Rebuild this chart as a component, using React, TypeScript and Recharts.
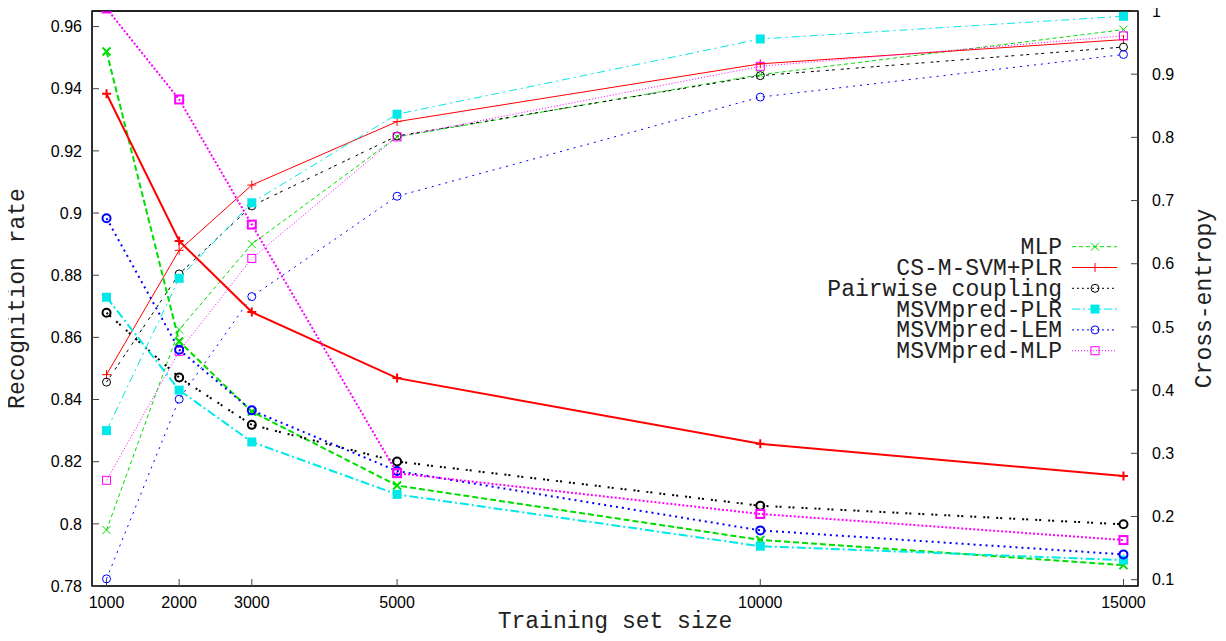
import React from 'react';
import { LineChart, Line, XAxis, YAxis, Legend, ReferenceArea } from 'recharts';

// ---------- data ----------
const trainingSizes = [1000, 2000, 3000, 5000, 10000, 15000];
const rateTicks = [0.78, 0.8, 0.82, 0.84, 0.86, 0.88, 0.9, 0.92, 0.94, 0.96];
const entropyTicks = [0.1, 0.2, 0.3, 0.4, 0.5, 0.6, 0.7, 0.8, 0.9, 1];
const xDomain = [800, 15200];
const rateDomain = [0.78, 0.965];
const entropyDomain = [0.09, 1.0];

const seriesNames = ['MLP', 'CS-M-SVM+PLR', 'Pairwise coupling', 'MSVMpred-PLR', 'MSVMpred-LEM', 'MSVMpred-MLP'];

// Recognition rate (left axis)
const mlpRate = [0.798, 0.8625, 0.89, 0.9245, 0.9445, 0.959];
const csRate = [0.848, 0.888, 0.909, 0.9294, 0.948, 0.9558];
const pairRate = [0.8456, 0.8804, 0.9023, 0.9248, 0.9442, 0.9534];
const plrRate = [0.83, 0.879, 0.9033, 0.9318, 0.956, 0.9633];
const lemRate = [0.7823, 0.8401, 0.8731, 0.9054, 0.9373, 0.951];
const mlpPredRate = [0.814, 0.8555, 0.8854, 0.9245, 0.9472, 0.957];

// Cross-entropy (right axis)
const mlpCE = [0.936, 0.477, 0.366, 0.249, 0.163, 0.123];
const csCE = [0.869, 0.636, 0.5235, 0.419, 0.315, 0.264];
const pairCE = [0.5225, 0.42, 0.345, 0.287, 0.217, 0.1876];
const plrCE = [0.547, 0.4, 0.318, 0.235, 0.153, 0.131];
const lemCE = [0.672, 0.464, 0.368, 0.272, 0.178, 0.14];
const mlpPredCE = [1.004, 0.86, 0.662, 0.2686, 0.204, 0.1627];

const rateSeries = [mlpRate, csRate, pairRate, plrRate, lemRate, mlpPredRate];
const ceSeries = [mlpCE, csCE, pairCE, plrCE, lemCE, mlpPredCE];

const data = trainingSizes.map((n, i) => {
  const row: any = { n };
  rateSeries.forEach((s, k) => { row['rate' + k] = s[i]; });
  ceSeries.forEach((s, k) => { row['ce' + k] = s[i]; });
  return row;
});

// ---------- styles ----------
type Kind = 'x' | 'plus' | 'circle' | 'fsquare' | 'square';
const styles: { color: string; kind: Kind; thinDash?: string; thickDash?: string; legendDash?: string }[] = [
  { color: '#00dd00', kind: 'x', thinDash: '4 3', thickDash: '6 3', legendDash: '4 3' },
  { color: '#ff0000', kind: 'plus' },
  { color: '#000000', kind: 'circle', thinDash: '3 3 3 6', thickDash: '2 2 2 7', legendDash: '2 3' },
  { color: '#00e8e8', kind: 'fsquare', thinDash: '8 4 2 4', thickDash: '9 3 2 3', legendDash: '8 3 2 3' },
  { color: '#0000ff', kind: 'circle', thinDash: '2 5', thickDash: '2 4', legendDash: '2 3' },
  { color: '#ff00ff', kind: 'square', thinDash: '1 2', thickDash: '2 2', legendDash: '1 2' },
];

function marker(kind: Kind, cx: number, cy: number, color: string, sw: number) {
  switch (kind) {
    case 'x': {
      const s = 4;
      return <path d={`M${cx - s},${cy - s}L${cx + s},${cy + s}M${cx - s},${cy + s}L${cx + s},${cy - s}`} stroke={color} strokeWidth={sw} fill="none" />;
    }
    case 'plus': {
      const s = 4.5;
      return <path d={`M${cx - s},${cy}L${cx + s},${cy}M${cx},${cy - s}L${cx},${cy + s}`} stroke={color} strokeWidth={sw} fill="none" />;
    }
    case 'circle':
      return <circle cx={cx} cy={cy} r={4} stroke={color} strokeWidth={sw} fill="none" />;
    case 'fsquare':
      return <rect x={cx - 4.5} y={cy - 4.5} width={9} height={9} fill={color} stroke="none" />;
    case 'square':
      return <rect x={cx - 4} y={cy - 4} width={8} height={8} stroke={color} strokeWidth={sw} fill="none" />;
  }
  return null;
}

function dotRenderer(kind: Kind, color: string, sw: number, id: string) {
  return (props: any) => {
    const { cx, cy, index } = props;
    if (cx == null || cy == null || isNaN(cx) || isNaN(cy)) return <g key={`${id}-${index}`} />;
    return <g key={`${id}-${index}`}>{marker(kind, cx, cy, color, sw)}</g>;
  };
}

const monoFont = '"Liberation Mono", "DejaVu Sans Mono", monospace';
const tickFont = { fontSize: 16, fill: '#000', fontFamily: '"Liberation Sans", Arial, sans-serif' };
const axisLineStyle = { stroke: '#222', strokeWidth: 1.5 };
const tickLineStyle = { stroke: '#444', strokeWidth: 1 };

const fmt = (v: number) => String(Number(v.toFixed(2)));

function LegendBox() {
  return (
    <svg width={440} height={140} style={{ display: 'block' }}>
      {seriesNames.map((name, i) => {
        const st = styles[i];
        const y = 13.7 + 20.8 * i;
        return (
          <g key={name}>
            <text x={354} y={y + 7.5} textAnchor="end" fontFamily={monoFont} fontSize={23} fill="#222">{name}</text>
            <line x1={364} x2={409} y1={y} y2={y} stroke={st.color} strokeWidth={1} strokeDasharray={st.legendDash} />
            {marker(st.kind, 387, y, st.color, 1)}
          </g>
        );
      })}
    </svg>
  );
}

export default function App() {
  return (
    <div style={{ margin: -8, width: 1226, height: 641 }}>
      <LineChart width={1226} height={641} data={data} margin={{ top: 10, right: 0, bottom: 0, left: 0 }}>
        <XAxis
          xAxisId="b"
          dataKey="n"
          type="number"
          orientation="bottom"
          domain={xDomain}
          ticks={trainingSizes}
          interval={0}
          allowDataOverflow
          height={55}
          tickSize={-7}
          tickMargin={18}
          axisLine={axisLineStyle}
          tickLine={tickLineStyle}
          tick={tickFont}
          label={{
            content: (p: any) => {
              const vb = p.viewBox;
              return (
                <text x={vb.x + vb.width / 2} y={vb.y + 42} textAnchor="middle" fontFamily={monoFont} fontSize={23} fill="#222">
                  Training set size
                </text>
              );
            },
          }}
        />
        <XAxis
          xAxisId="t"
          dataKey="n"
          type="number"
          orientation="top"
          domain={xDomain}
          ticks={trainingSizes}
          interval={0}
          allowDataOverflow
          height={1}
          tickSize={-7}
          axisLine={{ stroke: '#222', strokeWidth: 2 }}
          tickLine={tickLineStyle}
          tick={false}
        />
        <YAxis
          yAxisId="l"
          orientation="left"
          type="number"
          domain={rateDomain}
          ticks={rateTicks}
          interval={0}
          allowDataOverflow
          width={92}
          tickSize={-7}
          tickMargin={17}
          tickFormatter={fmt}
          axisLine={axisLineStyle}
          tickLine={tickLineStyle}
          tick={tickFont}
          label={{
            content: (p: any) => {
              const vb = p.viewBox;
              const x = vb.x + 24;
              const y = vb.y + vb.height / 2;
              return (
                <text x={x} y={y} transform={`rotate(-90, ${x}, ${y})`} textAnchor="middle" fontFamily={monoFont} fontSize={23} fill="#222">
                  Recognition rate
                </text>
              );
            },
          }}
        />
        <YAxis
          yAxisId="r"
          orientation="right"
          type="number"
          domain={entropyDomain}
          ticks={entropyTicks}
          interval={0}
          allowDataOverflow
          width={88}
          tickSize={-7}
          tickMargin={21}
          tickFormatter={fmt}
          axisLine={axisLineStyle}
          tickLine={tickLineStyle}
          tick={tickFont}
          label={{
            content: (p: any) => {
              const vb = p.viewBox;
              const x = vb.x + 73;
              const y = vb.y + vb.height / 2;
              return (
                <text x={x} y={y} transform={`rotate(-90, ${x}, ${y})`} textAnchor="middle" fontFamily={monoFont} fontSize={23} fill="#222">
                  Cross-entropy
                </text>
              );
            },
          }}
        />
        <ReferenceArea
          xAxisId="b"
          yAxisId="l"
          x1={xDomain[0]}
          x2={xDomain[1]}
          y1={rateDomain[0]}
          y2={rateDomain[1]}
          fill="none"
          fillOpacity={0}
          stroke="#222"
          strokeWidth={1.5}
          ifOverflow="visible"
        />
        {styles.map((st, k) => (
          <Line
            key={'rate' + k}
            xAxisId="t"
            yAxisId="l"
            dataKey={'rate' + k}
            name={seriesNames[k]}
            type="linear"
            stroke={st.color}
            strokeWidth={1}
            strokeDasharray={st.thinDash}
            dot={dotRenderer(st.kind, st.color, 1, 'rate' + k)}
            activeDot={false}
            isAnimationActive={false}
            legendType="none"
          />
        ))}
        {styles.map((st, k) => (
          <Line
            key={'ce' + k}
            xAxisId="b"
            yAxisId="r"
            dataKey={'ce' + k}
            name={seriesNames[k] + ' (CE)'}
            type="linear"
            stroke={st.color}
            strokeWidth={2}
            strokeDasharray={st.thickDash}
            dot={dotRenderer(st.kind, st.color, 2, 'ce' + k)}
            activeDot={false}
            isAnimationActive={false}
            legendType="none"
          />
        ))}
        <Legend
          layout="vertical"
          align="center"
          verticalAlign="middle"
          content={() => <LegendBox />}
          wrapperStyle={{ position: 'absolute', left: 708, top: 233, width: 440, height: 140, margin: 0 }}
        />
      </LineChart>
    </div>
  );
}
